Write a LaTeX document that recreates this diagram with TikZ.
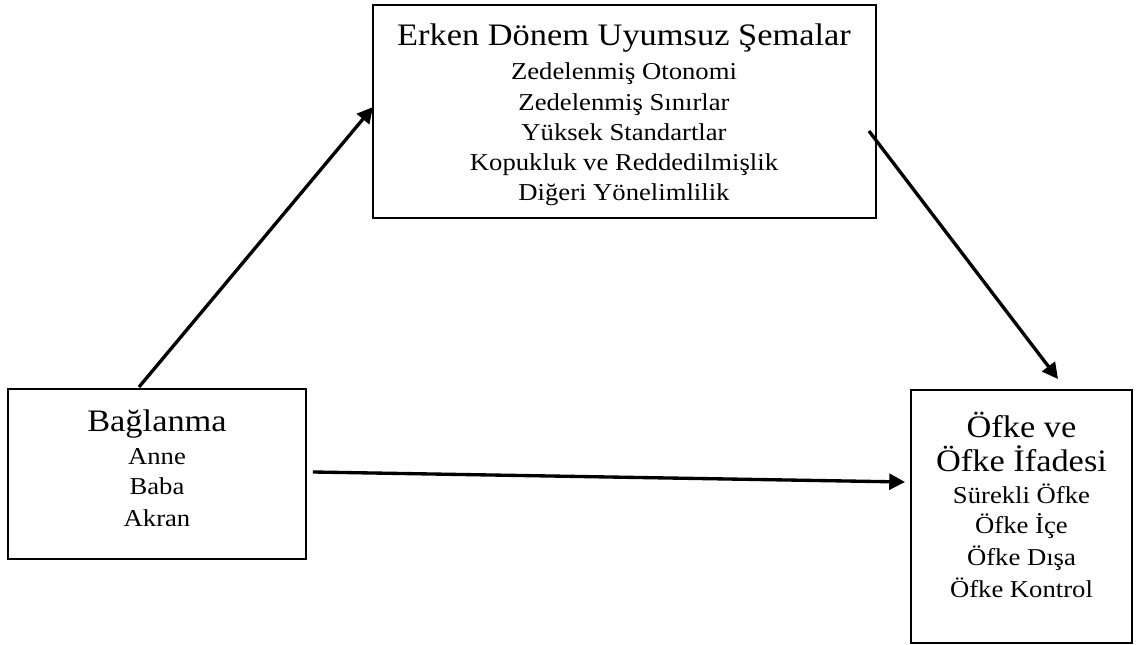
\documentclass[tikz,border=0pt]{standalone}
\usepackage{fontspec}
\setmainfont{Liberation Serif}[FakeStretch=1.1]
\usetikzlibrary{arrows.meta,calc}

\begin{document}
\begin{tikzpicture}[x=0.02cm, y=-0.02cm]
\tikzset{kutu/.style={draw, line width=1pt, rectangle, inner sep=0pt, outer sep=0pt},
  baslik/.style={anchor=base, inner sep=0pt, font=\fontsize{17.8}{20}\selectfont},
  satir/.style={anchor=base, inner sep=0pt, font=\fontsize{13.8}{16}\selectfont},
  ok/.style={line width=1.9pt, -{Triangle[length=9pt, width=9pt]}}}
\useasboundingbox (0,0) rectangle (1137,645);
% kutular
\node[kutu, minimum width=10.06cm, minimum height=4.26cm] (sema) at (624.5,111.5) {};
\node[kutu, minimum width=5.96cm, minimum height=3.4cm] (bag) at (157,474) {};
\node[kutu, minimum width=4.42cm, minimum height=5.06cm] (ofke) at (1021.5,516.5) {};
% yazilar
\node[baslik] (semaBaslik) at (624,45.7) {Erken Dönem Uyumsuz Şemalar};
\node[satir] (sema1) at (624,80) {Zedelenmiş Otonomi};
\node[satir] (sema2) at (624,110.5) {Zedelenmiş Sınırlar};
\node[satir] (sema3) at (624,140.5) {Yüksek Standartlar};
\node[satir] (sema4) at (624,170.5) {Kopukluk ve Reddedilmişlik};
\node[satir] (sema5) at (624,201) {Diğeri Yönelimlilik};
\node[baslik] (bagBaslik) at (157,431.5) {Bağlanma};
\node[satir] (bag1) at (157,464) {Anne};
\node[satir] (bag2) at (157,495) {Baba};
\node[satir] (bag3) at (157,526.5) {Akran};
\node[baslik] (ofkeBaslik1) at (1021.5,438) {Öfke ve};
\node[baslik] (ofkeBaslik2) at (1021.5,471.5) {Öfke İfadesi};
\node[satir] (ofke1) at (1021.5,503) {Sürekli Öfke};
\node[satir] (ofke2) at (1021.5,533.5) {Öfke İçe};
\node[satir] (ofke3) at (1021.5,565) {Öfke Dışa};
\node[satir] (ofke4) at (1021.5,597) {Öfke Kontrol};
% oklar
\draw[ok] ($(bag.north)+(-18,-2)$) -- ($(sema.west)+(0,-4.5)$);
\draw[ok] ($(sema.east)+(-7,19.5)$) -- ($(ofke.north)+(36.5,-11)$);
\draw[ok] ($(bag.east)+(7,-2)$) -- ($(ofke.west)+(-6,-34.5)$);
\end{tikzpicture}
\end{document}
